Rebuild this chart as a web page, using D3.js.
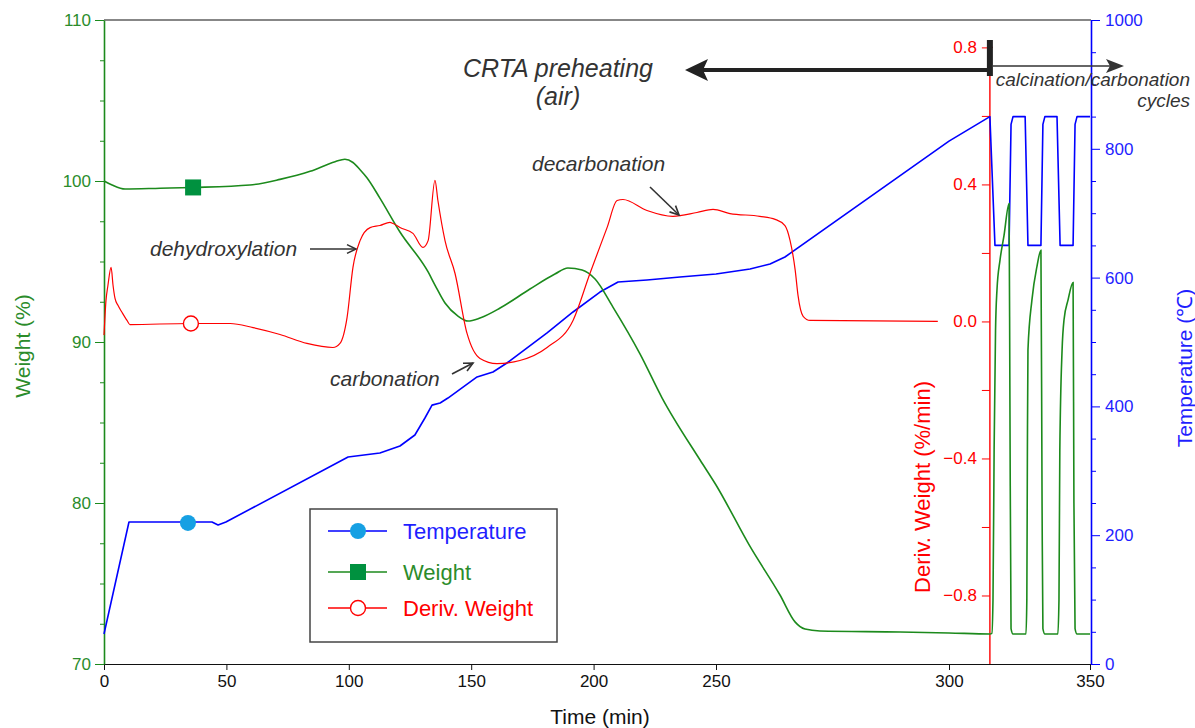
<!DOCTYPE html>
<html>
<head>
<meta charset="utf-8">
<script src="https://cdn.jsdelivr.net/npm/d3@7"></script>
<style>
  body { margin: 0; background: #fff; }
  svg text { font-family: "Liberation Sans", Arial, sans-serif; }
</style>
</head>
<body>
<div id="chart"></div>
<script>
// ---- data: [time (min), value] ----
const weightSeries = [
  [0, 100.0], [3.3, 99.75], [8.6, 99.5], [22.9, 99.55], [36.4, 99.6], [59.6, 99.75],
  [71.9, 100.1], [84.2, 100.6], [94.4, 101.2], [98.4, 101.35], [101.7, 101.15],
  [104.6, 100.7], [107.4, 100.2], [112.7, 98.94], [120.9, 96.83], [132.4, 94.35], [135.2, 93.54],
  [139.3, 92.42], [144.6, 91.61], [148.7, 91.3], [153.6, 91.49], [161.8, 92.11],
  [174.0, 93.29], [184.2, 94.22], [189.5, 94.6], [195.3, 94.47], [200.6, 93.91],
  [207.9, 92.17], [219.0, 89.25], [228.0, 86.52], [243.5, 82.67], [250.0, 81.12],
  [257.3, 77.3], [263.7, 74.3], [267.0, 72.6], [269.1, 72.17], [272.3, 72.05],
  [289.5, 71.99], [300.0, 71.93], [314.5, 71.86],
  // calcination / carbonation cycles
  [315.2, 71.9], [315.6, 74.0], [316.0, 83.3], [316.5, 90.7], [317.0, 93.2], [318.1, 95.1],
  [319.5, 96.6], [321.3, 98.6], [321.6, 86.4], [322.0, 72.2], [322.7, 71.86], [327.3, 71.86],
  [327.6, 74.0], [327.8, 83.3], [328.0, 89.5], [329.4, 92.6], [331.2, 94.7], [332.6, 95.7],
  [333.0, 80.0], [333.3, 72.2], [334.0, 71.86], [338.6, 71.86],
  [339.0, 74.0], [339.3, 83.3], [340.1, 89.5], [340.8, 91.4], [342.2, 92.6], [344.0, 93.7],
  [344.3, 80.0], [344.7, 72.2], [345.4, 71.86], [350.0, 71.86]
];

const tempSeries = [
  [0, 46.6], [10.2, 220.5], [44.1, 220.5], [46.6, 215.8], [49.8, 220.5], [99.7, 321.4],
  [112.7, 327.6], [120.9, 338.5], [127.0, 355.6], [131.1, 382.0], [134.0, 402.0],
  [137.3, 405.3], [140.5, 413.0], [152.4, 445.7], [158.9, 453.4], [164.6, 467.4],
  [181.0, 514.0], [191.6, 546.6], [202.6, 577.6], [210.0, 593.2], [221.8, 596.3],
  [235.3, 600.9], [250.0, 605.6], [257.3, 613.4], [261.6, 621.1], [264.8, 632.0],
  [300.0, 812.0], [314.5, 850],
  [316.3, 650], [321.3, 650], [322.0, 838], [322.7, 850], [327.0, 850],
  [328.0, 650], [332.6, 650], [333.3, 838], [334.0, 850], [338.3, 850],
  [339.4, 650], [344.0, 650], [344.7, 838], [345.4, 850], [350.0, 850]
];

const derivSeries = [
  [0, -0.04], [0.8, 0.06], [1.6, 0.105], [2.9, 0.158], [3.7, 0.105], [4.5, 0.067],
  [5.7, 0.047], [7.4, 0.026], [9.4, 0.003], [10.6, -0.009], [35.1, -0.006], [51.5, -0.006],
  [60.9, -0.018], [71.9, -0.038], [82.9, -0.064], [93.5, -0.076], [96.4, -0.064],
  [99.3, 0.012], [101.7, 0.158], [104.6, 0.236], [108.7, 0.274], [112.7, 0.28],
  [116.8, 0.289], [118.1, 0.286], [120.9, 0.274], [126.2, 0.257], [130.3, 0.216],
  [132.4, 0.236], [135.2, 0.412], [136.4, 0.353], [139.3, 0.236], [143.4, 0.14],
  [148.3, -0.035], [153.6, -0.108], [160.5, -0.123], [169.9, -0.114], [181.0, -0.076],
  [191.6, 0.003], [198.5, 0.14], [205.5, 0.274], [209.6, 0.353], [212.0, 0.356],
  [221.8, 0.324], [232.4, 0.307], [242.2, 0.318], [248.8, 0.327], [253.0, 0.315],
  [259.4, 0.307], [262.7, 0.298], [264.8, 0.28], [265.9, 0.236], [267.0, 0.149],
  [267.6, 0.076], [268.7, 0.015], [270.2, 0.003], [297.6, 0.0]
];

// marker positions on the curves [time, value]
const tempMarker = [34.3, 219];
const weightMarker = [36.4, 99.6];
const derivMarker = [35.5, -0.006];

const cycleStart = 314.5;

const timeTicks = [0, 50, 100, 150, 200, 250, 300, 350];
const weightTicks = [70, 80, 90, 100, 110];
const weightMinor = d3.range(72.5, 110, 2.5).filter(v => v % 10 !== 0);
const tempTicks = [0, 200, 400, 600, 800, 1000];
const tempMinor = d3.range(50, 1000, 50).filter(v => v % 200 !== 0);
const derivTicks = [-0.8, -0.4, 0.0, 0.4, 0.8];
const derivMinor = [-0.6, -0.2, 0.2, 0.6];

const legendNames = ['Temperature', 'Weight', 'Deriv. Weight'];

// ---- colours ----
const C = {
  green: '#1c8a1c',
  greenText: '#2b8c2b',
  blue: '#0000ff',
  blueText: '#1f1fff',
  red: '#ff0000',
  dark: '#333333',
  dot: '#16a0e3',
  square: '#00913f'
};

const W = 1195, H = 728;
const plotLeft = 104, plotTop = 20, plotRight = 1091, plotBottom = 664;

const svg = d3.select('#chart').append('svg')
  .attr('width', W)
  .attr('height', H);

// time axis is drawn piecewise (preheating part and cycle part are stretched differently)
const x = d3.scaleLinear().domain([0, 250, 300, 350]).range([plotLeft, 716, 949, plotRight - 1]);
const yW = d3.scaleLinear().domain([70, 110]).range([plotBottom, plotTop]);
const yT = d3.scaleLinear().domain([0, 1000]).range([plotBottom, plotTop]);
const yD = d3.scaleLinear().domain([-1.0, 0.88]).range([plotBottom, plotTop]);

// frame: top line
svg.append('line')
  .attr('x1', plotLeft).attr('x2', plotRight)
  .attr('y1', plotTop).attr('y2', plotTop)
  .attr('stroke', '#111').attr('stroke-width', 1.2);

// ---- bottom axis ----
const xAxis = svg.append('g')
  .attr('transform', `translate(0,${plotBottom})`)
  .call(d3.axisBottom(x).tickValues(timeTicks).tickSize(6).tickSizeOuter(0).tickPadding(5));
xAxis.select('.domain').attr('stroke', '#111').attr('stroke-width', 1.2);
xAxis.selectAll('line').attr('stroke', '#111');
xAxis.selectAll('text').attr('font-size', '17px').attr('fill', '#111');

// ---- left weight axis ----
const wMinor = svg.append('g').attr('transform', `translate(${plotLeft},0)`)
  .call(d3.axisLeft(yW).tickValues(weightMinor).tickSize(4).tickSizeOuter(0).tickFormat(''));
wMinor.select('.domain').remove();
wMinor.selectAll('line').attr('stroke', C.green);

const wAxis = svg.append('g').attr('transform', `translate(${plotLeft},0)`)
  .call(d3.axisLeft(yW).tickValues(weightTicks).tickSize(9).tickSizeOuter(0).tickPadding(4));
wAxis.select('.domain').attr('stroke', C.green).attr('stroke-width', 1.6);
wAxis.selectAll('line').attr('stroke', C.green);
wAxis.selectAll('text').attr('font-size', '17px').attr('fill', C.greenText);

// ---- right temperature axis ----
const tMinor = svg.append('g').attr('transform', `translate(${plotRight},0)`)
  .call(d3.axisRight(yT).tickValues(tempMinor).tickSize(5).tickSizeOuter(0).tickFormat(''));
tMinor.select('.domain').remove();
tMinor.selectAll('line').attr('stroke', C.blue);

const tAxis = svg.append('g').attr('transform', `translate(${plotRight},0)`)
  .call(d3.axisRight(yT).tickValues(tempTicks).tickSize(9).tickSizeOuter(0).tickPadding(5)
    .tickFormat(d3.format('d')));
tAxis.select('.domain').attr('stroke', C.blue).attr('stroke-width', 1.6);
tAxis.selectAll('line').attr('stroke', C.blue);
tAxis.selectAll('text').attr('font-size', '17px').attr('fill', C.blueText);

// ---- inner derivative axis at start of cycles ----
const dx = x(cycleStart);
const dAxis = svg.append('g').attr('transform', `translate(${dx},0)`)
  .call(d3.axisLeft(yD).tickValues(derivTicks.concat(derivMinor)).tickSize(8).tickSizeOuter(0)
    .tickPadding(5).tickFormat(d => derivTicks.includes(d) ? d3.format('.1f')(d) : ''));
dAxis.select('.domain').remove();
dAxis.selectAll('line').attr('stroke', C.red);
dAxis.selectAll('text').attr('font-size', '17px').attr('fill', C.red);
svg.append('line')
  .attr('x1', dx).attr('x2', dx)
  .attr('y1', yD(0.8)).attr('y2', plotBottom)
  .attr('stroke', C.red).attr('stroke-width', 1.4);
svg.append('line')
  .attr('x1', dx).attr('x2', dx + 3)
  .attr('y1', yD(0.8)).attr('y2', yD(0.8))
  .attr('stroke', C.red).attr('stroke-width', 1.4);

// ---- axis titles ----
svg.append('text')
  .attr('transform', `translate(30,346) rotate(-90)`)
  .attr('text-anchor', 'middle')
  .attr('font-size', '21px')
  .attr('fill', C.greenText)
  .text('Weight (%)');

svg.append('text')
  .attr('transform', `translate(930,487) rotate(-90)`)
  .attr('text-anchor', 'middle')
  .attr('font-size', '22px')
  .attr('fill', C.red)
  .text('Deriv. Weight (%/min)');

svg.append('text')
  .attr('transform', `translate(1192,368) rotate(-90)`)
  .attr('text-anchor', 'middle')
  .attr('font-size', '21px')
  .attr('fill', C.blueText)
  .text('Temperature (\u2103)');

svg.append('text')
  .attr('x', 600).attr('y', 724)
  .attr('text-anchor', 'middle')
  .attr('font-size', '21px')
  .attr('fill', '#111')
  .text('Time (min)');

// ---- curves ----
const lineW = d3.line().x(d => x(d[0])).y(d => yW(d[1])).curve(d3.curveMonotoneX);
const lineT = d3.line().x(d => x(d[0])).y(d => yT(d[1]));
const lineD = d3.line().x(d => x(d[0])).y(d => yD(d[1])).curve(d3.curveMonotoneX);

svg.append('path').attr('d', lineT(tempSeries))
  .attr('fill', 'none').attr('stroke', C.blue).attr('stroke-width', 1.6).attr('stroke-linejoin', 'round');
svg.append('path').attr('d', lineW(weightSeries))
  .attr('fill', 'none').attr('stroke', C.green).attr('stroke-width', 1.6);
svg.append('path').attr('d', lineD(derivSeries))
  .attr('fill', 'none').attr('stroke', C.red).attr('stroke-width', 1.2);

// markers on the curves
svg.append('circle')
  .attr('cx', x(tempMarker[0])).attr('cy', yT(tempMarker[1])).attr('r', 8)
  .attr('fill', C.dot);
svg.append('rect')
  .attr('x', x(weightMarker[0]) - 8).attr('y', yW(weightMarker[1]) - 8)
  .attr('width', 16).attr('height', 16)
  .attr('fill', C.square);
svg.append('circle')
  .attr('cx', x(derivMarker[0])).attr('cy', yD(derivMarker[1])).attr('r', 7.5)
  .attr('fill', '#fff').attr('stroke', C.red).attr('stroke-width', 1.4);

// ---- annotations ----
function openArrow(x1, y1, x2, y2, head = 10) {
  const a = Math.atan2(y2 - y1, x2 - x1);
  const g = svg.append('g').attr('stroke', C.dark).attr('stroke-width', 1.6).attr('fill', 'none');
  g.append('line').attr('x1', x1).attr('y1', y1).attr('x2', x2).attr('y2', y2);
  g.append('path').attr('d',
    `M${x2 - head * Math.cos(a - 0.45)},${y2 - head * Math.sin(a - 0.45)}L${x2},${y2}` +
    `L${x2 - head * Math.cos(a + 0.45)},${y2 - head * Math.sin(a + 0.45)}`);
}

function note(px, py, txt, size, anchor = 'start') {
  svg.append('text')
    .attr('x', px).attr('y', py)
    .attr('text-anchor', anchor)
    .attr('font-size', size)
    .attr('font-style', 'italic')
    .attr('fill', C.dark)
    .text(txt);
}

note(150, 256, 'dehydroxylation', '21px');
openArrow(310, 249, 356, 249);
note(330, 386, 'carbonation', '21px');
openArrow(452, 374, 473, 363);
note(532, 171, 'decarbonation', '21px');
openArrow(650, 187, 679, 215);

note(558, 77, 'CRTA preheating', '25px', 'middle');
note(558, 105, '(air)', '25px', 'middle');

// thick arrow back to preheating
svg.append('line')
  .attr('x1', dx).attr('x2', 702)
  .attr('y1', 70).attr('y2', 70)
  .attr('stroke', '#222').attr('stroke-width', 4);
svg.append('path')
  .attr('d', 'M685,70L708,59L703,70L708,81Z')
  .attr('fill', '#222');
svg.append('rect')
  .attr('x', dx - 3).attr('y', 40).attr('width', 6).attr('height', 36)
  .attr('fill', '#222');

// thin arrow to the cycles
svg.append('line')
  .attr('x1', dx + 3).attr('x2', 1112)
  .attr('y1', 66).attr('y2', 66)
  .attr('stroke', C.dark).attr('stroke-width', 1.6);
svg.append('path')
  .attr('d', 'M1124,66L1106,59L1110,66L1106,73Z')
  .attr('fill', C.dark);
note(1190, 86, 'calcination/carbonation', '19px', 'end');
note(1190, 107, 'cycles', '19px', 'end');

// ---- legend ----
const legend = svg.append('g').attr('transform', 'translate(310,509)');
legend.append('rect')
  .attr('width', 247).attr('height', 133)
  .attr('fill', '#fff').attr('stroke', '#444').attr('stroke-width', 1.5);

const legendColors = [C.blue, C.green, C.red];
const legendY = [22, 63, 99];
legendNames.forEach((name, i) => {
  const row = legend.append('g').attr('transform', `translate(0,${legendY[i]})`);
  row.append('line')
    .attr('x1', 18).attr('x2', 77)
    .attr('stroke', legendColors[i]).attr('stroke-width', 1.6);
  if (i === 0) {
    row.append('circle').attr('cx', 48).attr('r', 8).attr('fill', C.dot);
  } else if (i === 1) {
    row.append('rect').attr('x', 40).attr('y', -8).attr('width', 16).attr('height', 16).attr('fill', C.square);
  } else {
    row.append('circle').attr('cx', 48).attr('r', 7.5)
      .attr('fill', '#fff').attr('stroke', C.red).attr('stroke-width', 1.4);
  }
  row.append('text')
    .attr('x', 93).attr('y', 8)
    .attr('font-size', '22px')
    .attr('fill', i === 0 ? C.blueText : i === 1 ? C.greenText : C.red)
    .text(name);
});
</script>
</body>
</html>
